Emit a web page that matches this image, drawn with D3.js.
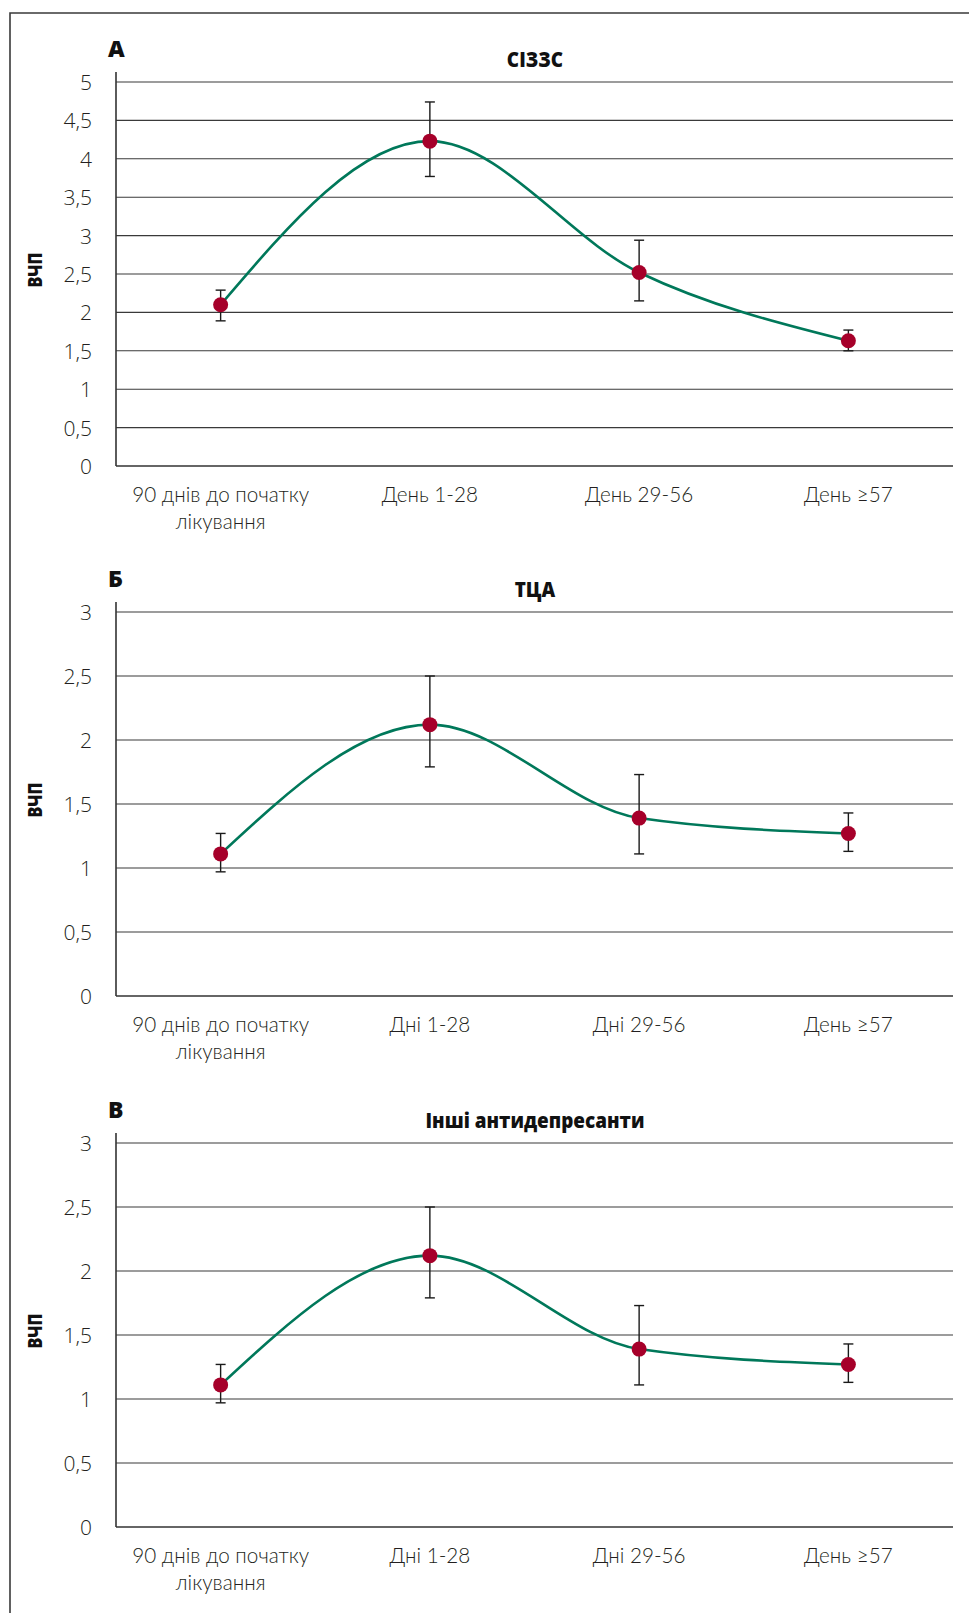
<!DOCTYPE html>
<html lang="uk">
<head>
<meta charset="utf-8">
<title>ВЧП за періодами лікування</title>
<script src="https://cdn.jsdelivr.net/npm/d3@7"></script>
<style>
  html, body { margin: 0; padding: 0; background: #fff; }
  svg { display: block; }
  .tick-label { font-family: "Open Sans", sans-serif; font-weight: 300; fill: #231f20; }
  .cat-label { font-family: Lato, "Open Sans", sans-serif; font-weight: 300; fill: #231f20; }
  .title { font-family: "Open Sans", sans-serif; font-weight: 800; fill: #111; }
  .panel-letter { font-family: "Open Sans", sans-serif; font-weight: 800; fill: #111; }
  .y-title { font-family: "Open Sans", sans-serif; font-weight: 800; fill: #111; }
</style>
</head>
<body>
<svg id="chart" width="969" height="1613"></svg>
<script>
// Periods on the x axis ("\n" marks a line break in the label)
const categoriesA = ["90 днів до початку\nлікування", "День 1-28", "День 29-56", "День ≥57"];
const categoriesB = ["90 днів до початку\nлікування", "Дні 1-28", "Дні 29-56", "День ≥57"];
const categoriesC = ["90 днів до початку\nлікування", "Дні 1-28", "Дні 29-56", "День ≥57"];

// A: СІЗЗС — mean and 95% interval bounds
const ssriMean = [2.10, 4.23, 2.52, 1.63];
const ssriLow  = [1.89, 3.77, 2.15, 1.50];
const ssriHigh = [2.29, 4.74, 2.94, 1.77];

// Б: ТЦА
const tcaMean = [1.11, 2.12, 1.39, 1.27];
const tcaLow  = [0.97, 1.79, 1.11, 1.13];
const tcaHigh = [1.27, 2.50, 1.73, 1.43];

// В: інші антидепресанти
const otherMean = [1.11, 2.12, 1.39, 1.27];
const otherLow  = [0.97, 1.79, 1.11, 1.13];
const otherHigh = [1.27, 2.50, 1.73, 1.43];

// Y-axis ticks
const ticksA  = [0, 0.5, 1, 1.5, 2, 2.5, 3, 3.5, 4, 4.5, 5];
const ticksBC = [0, 0.5, 1, 1.5, 2, 2.5, 3];

const panelLetters = ["А", "Б", "В"];
const panelTitles  = ["СІЗЗС", "ТЦА", "Інші антидепресанти"];
const yAxisTitle = "ВЧП";

const panels = [
  { letter: panelLetters[0], title: panelTitles[0], cats: categoriesA, mean: ssriMean, low: ssriLow, high: ssriHigh, ticks: ticksA, top: 82 },
  { letter: panelLetters[1], title: panelTitles[1], cats: categoriesB, mean: tcaMean, low: tcaLow, high: tcaHigh, ticks: ticksBC, top: 612 },
  { letter: panelLetters[2], title: panelTitles[2], cats: categoriesC, mean: otherMean, low: otherLow, high: otherHigh, ticks: ticksBC, top: 1143 }
];

const svg = d3.select("#chart");
const left = 116, right = 953, plotH = 384;
const fmt = v => String(v).replace(".", ",");

// Outer frame (left and top edges)
svg.append("path")
  .attr("d", "M10,1613 L10,13 L969,13")
  .attr("fill", "none")
  .attr("stroke", "#3a3a3a")
  .attr("stroke-width", 1.6);

panels.forEach(p => {
  const maxV = d3.max(p.ticks);
  const y = d3.scaleLinear().domain([0, maxV]).range([p.top + plotH, p.top]);
  const x = d3.scalePoint().domain(p.cats).range([left, right]).padding(0.5);
  const g = svg.append("g");

  // Horizontal gridlines
  g.append("g").selectAll("line")
    .data(p.ticks.filter(t => t > 0))
    .join("line")
    .attr("x1", left).attr("x2", right)
    .attr("y1", d => y(d)).attr("y2", d => y(d))
    .attr("stroke", "#3a3a3a").attr("stroke-width", 1.1);

  // Y axis: labels only, domain line drawn separately
  const yAxis = d3.axisLeft(y).tickValues(p.ticks).tickSize(0).tickPadding(0).tickFormat(fmt);
  const ya = g.append("g").attr("transform", `translate(92,0)`).call(yAxis);
  ya.select(".domain").remove();
  ya.selectAll("text")
    .attr("class", "tick-label")
    .attr("font-size", 21)
    .attr("font-family", null)
    .attr("x", 0)
    .attr("dy", "0.36em");

  // Axis lines
  g.append("line")
    .attr("x1", left).attr("x2", left)
    .attr("y1", p.top - 10).attr("y2", y(0))
    .attr("stroke", "#333").attr("stroke-width", 1.6);
  g.append("line")
    .attr("x1", left).attr("x2", right)
    .attr("y1", y(0)).attr("y2", y(0))
    .attr("stroke", "#333").attr("stroke-width", 1.6);

  // Category labels (one text element per line)
  const xa = g.append("g").selectAll("g.cat")
    .data(p.cats)
    .join("g")
    .attr("class", "cat")
    .attr("transform", d => `translate(${x(d)},${y(0) + 36}) scale(0.92,1)`);
  xa.each(function (d) {
    const lines = d.split("\n");
    lines.forEach((ln, i) => d3.select(this).append("text")
      .attr("class", "cat-label")
      .attr("text-anchor", "middle")
      .attr("font-size", 22.5)
      .attr("y", i * 27)
      .text(ln));
  });

  // Panel letter and title
  g.append("text")
    .attr("class", "panel-letter")
    .attr("x", 108).attr("y", p.top - 25)
    .attr("font-size", 23)
    .text(p.letter);
  g.append("text")
    .attr("class", "title")
    .attr("transform", `translate(535,${p.top - 15}) scale(0.9,1)`)
    .attr("text-anchor", "middle")
    .attr("font-size", 21)
    .text(p.title);

  // Y-axis title
  g.append("text")
    .attr("class", "y-title")
    .attr("transform", `translate(42,${p.top + plotH / 2 - 4}) rotate(-90) scale(0.85,1)`)
    .attr("text-anchor", "middle")
    .attr("font-size", 19)
    .text(yAxisTitle);

  const rows = p.cats.map((c, i) => ({ c, m: p.mean[i], lo: p.low[i], hi: p.high[i] }));

  // Smoothed trend line
  const line = d3.line().x(d => x(d.c)).y(d => y(d.m)).curve(d3.curveMonotoneX);
  g.append("path")
    .datum(rows)
    .attr("d", line)
    .attr("fill", "none")
    .attr("stroke", "#00785a")
    .attr("stroke-width", 2.6);

  // Error bars
  const eb = g.append("g").selectAll("g").data(rows).join("g")
    .attr("stroke", "#1a1a1a").attr("stroke-width", 1.4);
  eb.append("line")
    .attr("x1", d => x(d.c)).attr("x2", d => x(d.c))
    .attr("y1", d => y(d.lo)).attr("y2", d => y(d.hi));
  eb.append("line")
    .attr("x1", d => x(d.c) - 5).attr("x2", d => x(d.c) + 5)
    .attr("y1", d => y(d.hi)).attr("y2", d => y(d.hi));
  eb.append("line")
    .attr("x1", d => x(d.c) - 5).attr("x2", d => x(d.c) + 5)
    .attr("y1", d => y(d.lo)).attr("y2", d => y(d.lo));

  // Points
  g.append("g").selectAll("circle").data(rows).join("circle")
    .attr("cx", d => x(d.c)).attr("cy", d => y(d.m))
    .attr("r", 7.5)
    .attr("fill", "#a6002a");
});
</script>
</body>
</html>
